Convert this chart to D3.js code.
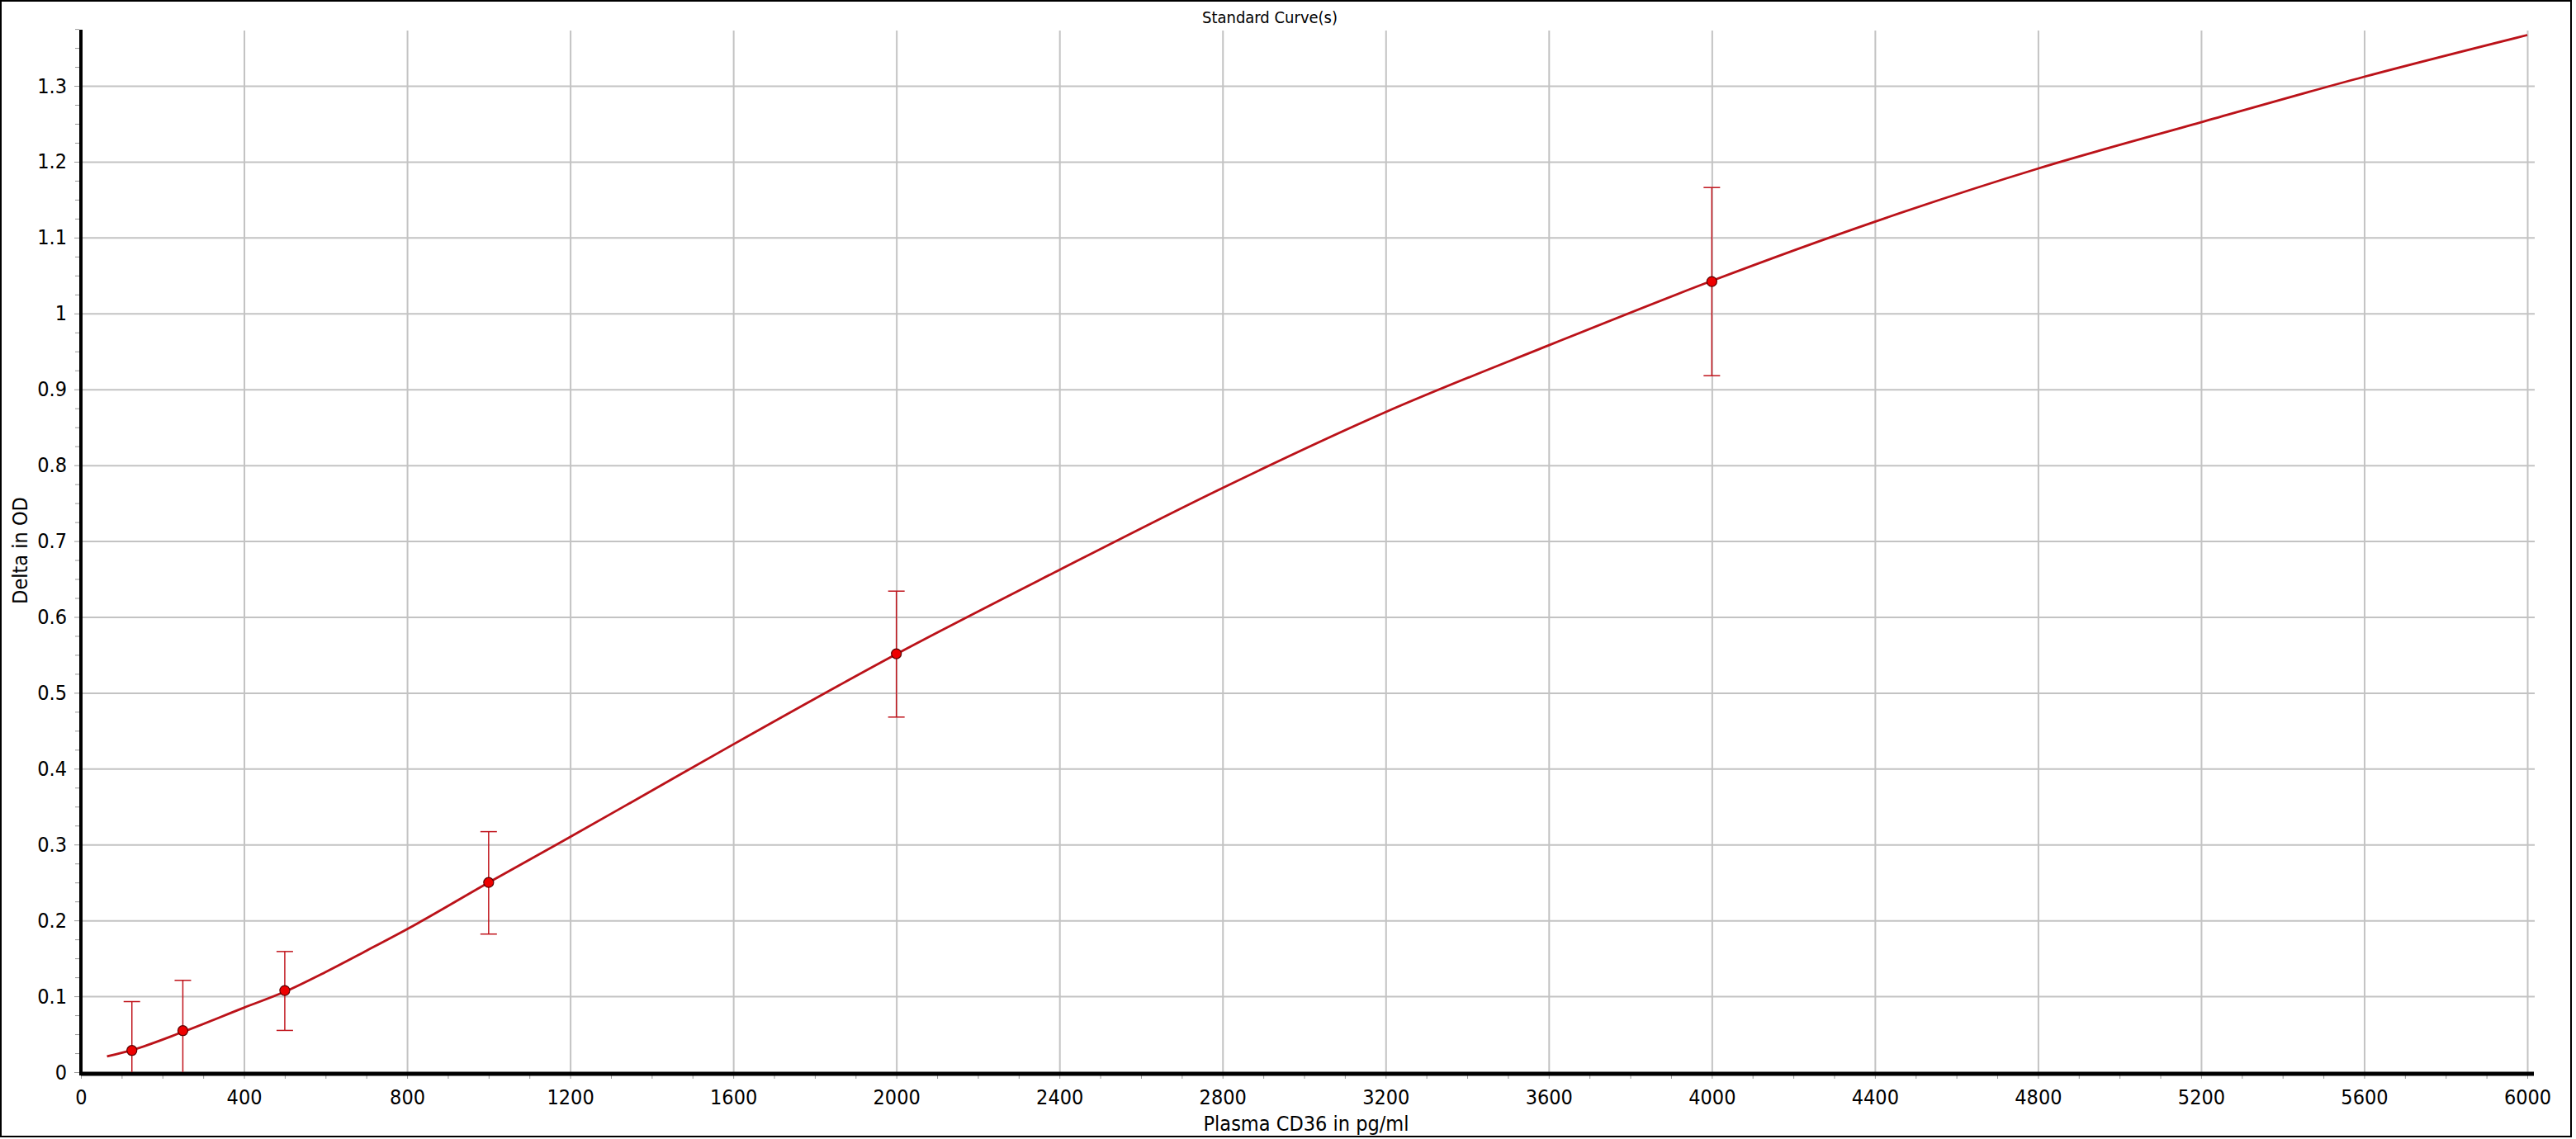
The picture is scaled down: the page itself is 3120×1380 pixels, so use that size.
<html lang="en">
  <head>
    <meta charset="UTF-8" />
    <title>Standard Curve(s)</title>
    <script src="https://d3js.org/d3.v7.min.js"></script>
  </head>
  <style>
    body {
      margin: 0px;
      overflow: hidden;
      background: #fff;
    }
    text {
      font-family: "DejaVu Sans Condensed", "DejaVu Sans", sans-serif;
      font-stretch: condensed;
      fill: #000;
    }
  </style>
  <body>
    <svg width="3120" height="1380"></svg>
  </body>
  <footer>
    <script>
      // standards: concentration, mean OD, error bar ends
      var concentrations = [125, 250, 500, 1000, 2000, 4000];
      var meanOD = [0.0286, 0.0547, 0.1076, 0.25, 0.5515, 1.042];
      var errUpper = [0.093, 0.121, 0.159, 0.317, 0.634, 1.166];
      var errLower = [0, 0, 0.055, 0.182, 0.468, 0.918];

      // fitted curve
      var curveX = [64, 125, 250, 400, 500, 600, 700, 800, 1000, 1200, 1400, 1600, 2000, 2400, 2800, 3200, 3600, 4000, 4400, 4800, 5200, 5600, 6000];
      var curveY = [0.0207, 0.029, 0.053, 0.085, 0.106, 0.132, 0.160, 0.1885, 0.25, 0.31, 0.371, 0.432, 0.551, 0.662, 0.77, 0.87, 0.958, 1.043, 1.121, 1.191, 1.252, 1.312, 1.367];

      var xTicks = [0, 400, 800, 1200, 1600, 2000, 2400, 2800, 3200, 3600, 4000, 4400, 4800, 5200, 5600, 6000];
      var yTicks = [0, 0.1, 0.2, 0.3, 0.4, 0.5, 0.6, 0.7, 0.8, 0.9, 1, 1.1, 1.2, 1.3];
      var yTickLabels = ["0", "0.1", "0.2", "0.3", "0.4", "0.5", "0.6", "0.7", "0.8", "0.9", "1", "1.1", "1.2", "1.3"];

      var svg = d3.select("svg");
      var plotLeft = 98, plotRight = 3061, plotTop = 36, plotBottom = 1299, gridEnd = 3070;

      var xScale = d3.scaleLinear().domain([0, 6000]).range([plotLeft, plotRight]);
      var yScale = d3.scaleLinear().domain([0, 1.374]).range([plotBottom, plotTop]);

      // outer frame
      svg.append("rect")
        .attr("x", 1).attr("y", 1)
        .attr("width", 3113).attr("height", 1376)
        .attr("fill", "#fff")
        .attr("stroke", "#000")
        .attr("stroke-width", 2);

      // grid
      var vGrid = svg.append("g")
        .attr("transform", `translate(0, ${plotBottom})`)
        .call(d3.axisBottom(xScale).tickValues(xTicks.slice(1)).tickSize(-(plotBottom - plotTop - 1)).tickFormat(""));
      var hGrid = svg.append("g")
        .attr("transform", `translate(${plotLeft}, 0)`)
        .call(d3.axisLeft(yScale).tickValues(yTicks.slice(1)).tickSize(-(gridEnd - plotLeft)).tickFormat(""));
      [vGrid, hGrid].forEach(function (g) {
        g.select(".domain").remove();
        g.selectAll("line").attr("stroke", "#c3c3c3").attr("stroke-width", 2);
      });

      // minor ticks
      var xMinor = d3.range(100, 6001, 100).filter(function (d) { return d % 400 !== 0; });
      var yMinor = d3.range(1, 56).map(function (i) { return i * 0.025; })
        .filter(function (d) { return Math.abs(d * 10 - Math.round(d * 10)) > 0.01; });
      svg.append("g")
        .attr("transform", `translate(0, ${plotBottom + 2})`)
        .call(d3.axisBottom(xScale).tickValues(xMinor).tickSize(6).tickFormat(""))
        .call(function (g) { g.select(".domain").remove(); })
        .selectAll("line").attr("stroke", "#999").attr("stroke-width", 1);
      svg.append("g")
        .attr("transform", `translate(${plotLeft - 2}, 0)`)
        .call(d3.axisLeft(yScale).tickValues(yMinor).tickSize(5).tickFormat(""))
        .call(function (g) { g.select(".domain").remove(); })
        .selectAll("line").attr("stroke", "#999").attr("stroke-width", 1);

      // x axis labels
      var xAxis = svg.append("g")
        .attr("transform", `translate(0, ${plotBottom + 2})`)
        .call(d3.axisBottom(xScale).tickValues(xTicks).tickSize(6).tickPadding(13).tickFormat(d3.format("d")));
      xAxis.select(".domain").remove();
      xAxis.selectAll("line").attr("stroke", "#999");
      xAxis.selectAll("text").attr("font-size", 25);

      // y axis labels
      var yAxis = svg.append("g")
        .attr("transform", `translate(${plotLeft - 2}, 0)`)
        .call(d3.axisLeft(yScale).tickValues(yTicks).tickSize(6).tickPadding(9)
          .tickFormat(function (d, i) { return yTickLabels[i]; }));
      yAxis.select(".domain").remove();
      yAxis.selectAll("line").attr("stroke", "#999");
      yAxis.selectAll("text").attr("font-size", 25);

      // thick axis lines
      svg.append("line")
        .attr("x1", plotLeft).attr("x2", gridEnd - 1)
        .attr("y1", plotBottom + 2).attr("y2", plotBottom + 2)
        .attr("stroke", "#000").attr("stroke-width", 5);
      svg.append("line")
        .attr("x1", plotLeft).attr("x2", plotLeft)
        .attr("y1", plotTop).attr("y2", plotBottom + 4)
        .attr("stroke", "#000").attr("stroke-width", 4);

      // fitted curve
      var line = d3.line()
        .x(function (d, i) { return xScale(curveX[i]); })
        .y(function (d) { return yScale(d); })
        .curve(d3.curveMonotoneX);
      svg.append("path")
        .attr("d", line(curveY))
        .attr("fill", "none")
        .attr("stroke", "#bb1219")
        .attr("stroke-width", 2.8);

      // error bars
      var bars = svg.append("g")
        .selectAll("g")
        .data(concentrations)
        .enter()
        .append("g")
        .attr("stroke", "#c0141c")
        .attr("stroke-width", 1.5);
      bars.append("line")
        .attr("x1", function (d) { return xScale(d); })
        .attr("x2", function (d) { return xScale(d); })
        .attr("y1", function (d, i) { return yScale(errLower[i]); })
        .attr("y2", function (d, i) { return yScale(errUpper[i]); });
      bars.append("line")
        .attr("x1", function (d) { return xScale(d) - 10; })
        .attr("x2", function (d) { return xScale(d) + 10; })
        .attr("y1", function (d, i) { return yScale(errUpper[i]); })
        .attr("y2", function (d, i) { return yScale(errUpper[i]); });
      bars.filter(function (d, i) { return errLower[i] > 0; })
        .append("line")
        .attr("x1", function (d) { return xScale(d) - 10; })
        .attr("x2", function (d) { return xScale(d) + 10; })
        .attr("y1", function (d) { return yScale(errLower[concentrations.indexOf(d)]); })
        .attr("y2", function (d) { return yScale(errLower[concentrations.indexOf(d)]); });

      // points
      svg.append("g")
        .selectAll("circle")
        .data(concentrations)
        .enter()
        .append("circle")
        .attr("cx", function (d) { return xScale(d); })
        .attr("cy", function (d, i) { return yScale(meanOD[i]); })
        .attr("r", 6)
        .attr("fill", "#ee0000")
        .attr("stroke", "#5a0000")
        .attr("stroke-width", 1.2);

      // titles
      svg.append("text")
        .attr("x", 1538).attr("y", 28)
        .attr("text-anchor", "middle")
        .attr("font-size", 20)
        .text("Standard Curve(s)");
      svg.append("text")
        .attr("x", 1582).attr("y", 1370)
        .attr("text-anchor", "middle")
        .attr("font-size", 25)
        .text("Plasma CD36 in pg/ml");
      svg.append("text")
        .attr("transform", "translate(33, 667) rotate(-90)")
        .attr("text-anchor", "middle")
        .attr("font-size", 25)
        .text("Delta in OD");
    </script>
  </footer>
</html>
